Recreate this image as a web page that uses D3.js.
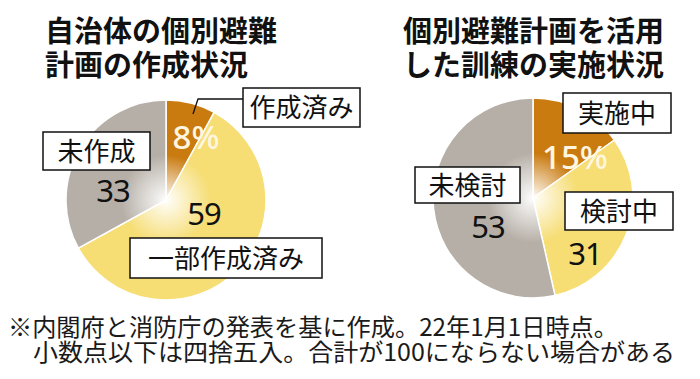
<!DOCTYPE html>
<html><head><meta charset="utf-8">
<script src="https://cdn.jsdelivr.net/npm/d3@7"></script>
<style>
html,body{margin:0;padding:0;background:#fff;}
svg{display:block;}
</style></head>
<body>
<svg id="chart" width="700" height="379"></svg>
<script>
// ---- data ----
const leftTitle = ["自治体の個別避難", "計画の作成状況"];
const leftCategories = ["作成済み", "一部作成済み", "未作成"];
const leftValues = [8, 59, 33];
const leftValueLabels = ["8%", "59", "33"];

const rightTitle = ["個別避難計画を活用", "した訓練の実施状況"];
const rightCategories = ["実施中", "検討中", "未検討"];
const rightValues = [15, 31, 53];
const rightValueLabels = ["15%", "31", "53"];

const footnote = ["※内閣府と消防庁の発表を基に作成。22年1月1日時点。",
                  "小数点以下は四捨五入。合計が100にならない場合がある"];

// ---- styles / layout ----
const colors = ["#c97b10", "#f6dd74", "#b6afa7"];
const valueFill = ["#fff6e0", "#111", "#111"];
const CJK = "'Noto Sans CJK JP','Noto Sans',sans-serif";
const NUM = "'Noto Sans','Open Sans',sans-serif";

const svg = d3.select("#chart");
const defs = svg.append("defs");

function drawPie(cfg) {
  const g = svg.append("g");
  cfg.title.forEach((t, i) => {
    g.append("text").attr("x", cfg.titleX).attr("y", cfg.titleY[i])
      .attr("font-family", CJK).attr("font-weight", 700).attr("font-size", 29)
      .attr("fill", "#111").text(t);
  });
  const pie = d3.pie().sort(null).value(d => d)(cfg.values);
  const arc = d3.arc().innerRadius(0).outerRadius(cfg.r);
  const pg = g.append("g").attr("transform", `translate(${cfg.cx},${cfg.cy})`);
  pie.forEach((d, i) => {
    const id = cfg.id + "grad" + i;
    const gr = defs.append("radialGradient").attr("id", id)
      .attr("gradientUnits", "userSpaceOnUse")
      .attr("cx", 0).attr("cy", 0).attr("r", cfg.r);
    gr.append("stop").attr("offset", 0).attr("stop-color", "#ffffff");
    gr.append("stop").attr("offset", 0.08).attr("stop-color", d3.interpolateRgb("#ffffff", colors[i])(0.2));
    gr.append("stop").attr("offset", 0.45).attr("stop-color", colors[i]);
    gr.append("stop").attr("offset", 1).attr("stop-color", colors[i]);
    pg.append("path").attr("d", arc(d)).attr("fill", `url(#${id})`)
      .attr("stroke", "#fff").attr("stroke-width", 1.5).attr("stroke-linejoin", "round");
  });
  if (cfg.leader) {
    g.append("polyline").attr("points", cfg.leader.map(p => p.join(",")).join(" "))
      .attr("fill", "none").attr("stroke", "#111").attr("stroke-width", 1.3);
  }
  cfg.categories.forEach((c, i) => {
    const b = cfg.boxes[i];
    g.append("rect").attr("x", b[0]).attr("y", b[1]).attr("width", b[2]).attr("height", b[3])
      .attr("fill", "#fff").attr("stroke", "#111").attr("stroke-width", 1.5);
    g.append("text").attr("x", b[0] + b[2] / 2).attr("y", b[1] + b[3] / 2 + 9.5)
      .attr("text-anchor", "middle").attr("font-family", CJK).attr("font-size", 26)
      .attr("fill", "#111").text(c);
  });
  cfg.valueLabels.forEach((v, i) => {
    const p = cfg.valuePos[i];
    g.append("text").attr("x", p[0]).attr("y", p[1]).attr("text-anchor", "middle")
      .attr("font-family", NUM).attr("font-size", i === 0 ? 33 : 31)
      .attr("font-weight", i === 0 ? 500 : 400).attr("fill", valueFill[i])
      .attr("letter-spacing", i === 0 ? 0 : -1).text(v);
  });
}

drawPie({
  id: "L", title: leftTitle, titleX: 45, titleY: [42, 76],
  values: leftValues, categories: leftCategories, valueLabels: leftValueLabels,
  cx: 166, cy: 200, r: 100,
  boxes: [[243, 88, 117, 39], [130, 238, 192, 40], [43, 132, 107, 38]],
  valuePos: [[196, 149], [204, 225], [113, 202]],
  leader: [[193, 114], [198, 99], [243, 99]]
});
drawPie({
  id: "R", title: rightTitle, titleX: 403, titleY: [42, 76],
  values: rightValues, categories: rightCategories, valueLabels: rightValueLabels,
  cx: 533, cy: 198, r: 100,
  boxes: [[563, 93, 108, 40], [565, 192, 108, 38], [415, 167, 105, 36]],
  valuePos: [[575, 169], [585, 265], [488, 238]]
});

const fn = [[8, 336, 610], [33, 361, 642]];
footnote.forEach((t, i) => {
  svg.append("text").attr("x", fn[i][0]).attr("y", fn[i][1])
    .attr("font-family", CJK).attr("font-size", 24).attr("font-weight", 400)
    .attr("fill", "#1a1a1a").attr("textLength", fn[i][2]).attr("lengthAdjust", "spacingAndGlyphs")
    .text(t);
});
</script>
</body></html>
